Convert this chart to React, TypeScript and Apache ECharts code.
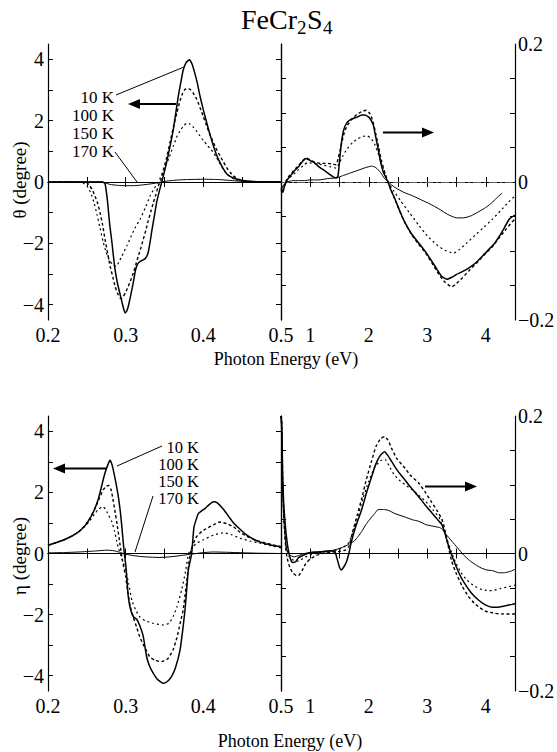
import React, { useEffect, useRef } from "react";
import * as echarts from "echarts";

const FONT = "'Liberation Serif', 'DejaVu Serif', 'Times New Roman', serif";

const temperatureLabels = ["10 K", "100 K", "150 K", "170 K"];
const lowXLabels = [0.2, 0.3, 0.4, 0.5];
const lowXTicks = [0.25, 0.3, 0.35, 0.4, 0.45];
const highXLabels = [1, 2, 3, 4];
const highXTicks = [1, 1.5, 2, 2.5, 3, 3.5, 4];
const leftYLabels = [-4, -2, 0, 2, 4];
const leftYTicks = [-4, -3, -2, -1, 0, 1, 2, 3, 4];
const rightYLabels = [-0.2, 0, 0.2];
const rightYTicks = [-0.15, -0.1, -0.05, 0, 0.05, 0.1, 0.15];

// Kerr rotation θ (degree), 0.2–0.5 eV, left scale
const thetaLow10K = [[0.2,0],[0.24,0],[0.27,0],[0.2734,-0.05],[0.2765,-0.6],[0.2795,-1.4],[0.282,-1.9],[0.2855,-2.7],[0.289,-3.25],[0.2927,-3.65],[0.2965,-4.05],[0.2992,-4.27],[0.3015,-4.2],[0.3034,-4.05],[0.3065,-3.7],[0.31,-3.25],[0.3125,-2.9],[0.3145,-2.72],[0.318,-2.6],[0.322,-2.55],[0.326,-2.47],[0.329,-2.3],[0.3315,-1.95],[0.3335,-1.62],[0.337,-1.1],[0.34,-0.65],[0.3435,-0.28],[0.3465,0],[0.3495,0.3],[0.3528,0.65],[0.357,1.15],[0.3614,1.72],[0.3645,2.25],[0.3678,2.8],[0.371,3.25],[0.3742,3.66],[0.378,3.9],[0.382,3.99],[0.3855,3.85],[0.389,3.55],[0.3925,3.2],[0.3957,2.8],[0.4,2.35],[0.4043,1.94],[0.4085,1.55],[0.4129,1.18],[0.417,0.88],[0.4215,0.63],[0.426,0.42],[0.43,0.27],[0.4345,0.18],[0.4386,0.13],[0.445,0.08],[0.4558,0.03],[0.47,0.01],[0.5,0]];
const thetaLow100K = [[0.2,0],[0.245,0],[0.25,-0.02],[0.254,-0.13],[0.2575,-0.28],[0.2605,-0.46],[0.264,-0.7],[0.267,-1.0],[0.2705,-1.42],[0.2734,-1.87],[0.277,-2.35],[0.28,-2.75],[0.2835,-3.1],[0.2863,-3.4],[0.2895,-3.63],[0.2927,-3.78],[0.295,-3.8],[0.297,-3.73],[0.3,-3.6],[0.3034,-3.4],[0.3065,-3.2],[0.31,-2.96],[0.313,-2.7],[0.3163,-2.42],[0.3195,-2.15],[0.3227,-1.87],[0.326,-1.57],[0.329,-1.27],[0.3323,-0.97],[0.3356,-0.68],[0.339,-0.4],[0.342,-0.13],[0.345,0.05],[0.3485,0.38],[0.3528,0.8],[0.357,1.28],[0.3614,1.78],[0.366,2.27],[0.37,2.65],[0.3735,2.9],[0.3764,3.02],[0.3807,3.05],[0.384,3.0],[0.387,2.9],[0.3915,2.7],[0.3957,2.43],[0.4,2.13],[0.4043,1.83],[0.4085,1.55],[0.413,1.29],[0.417,1.06],[0.4215,0.85],[0.426,0.65],[0.43,0.47],[0.4345,0.32],[0.4386,0.2],[0.445,0.09],[0.4515,0.03],[0.47,0],[0.5,0]];
const thetaLow150K = [[0.2,0],[0.24,0],[0.245,-0.03],[0.25,-0.12],[0.255,-0.35],[0.259,-0.65],[0.263,-1.05],[0.267,-1.5],[0.271,-1.95],[0.275,-2.3],[0.279,-2.55],[0.2835,-2.7],[0.288,-2.75],[0.2915,-2.6],[0.295,-2.42],[0.3013,-2.09],[0.3065,-1.8],[0.312,-1.5],[0.3185,-1.22],[0.325,-0.86],[0.3313,-0.46],[0.3365,-0.22],[0.342,0],[0.346,0.22],[0.35,0.45],[0.356,0.8],[0.3614,1.18],[0.3655,1.45],[0.37,1.67],[0.3745,1.83],[0.3785,1.92],[0.382,1.9],[0.386,1.82],[0.3905,1.68],[0.3957,1.5],[0.4,1.35],[0.405,1.2],[0.409,1.08],[0.413,0.96],[0.4165,0.82],[0.42,0.66],[0.4258,0.41],[0.43,0.27],[0.435,0.16],[0.44,0.09],[0.445,0.05],[0.455,0.02],[0.47,0],[0.5,0]];
const thetaLow170K = [[0.2,0],[0.27,0],[0.275,-0.04],[0.28,-0.08],[0.29,-0.11],[0.3,-0.12],[0.31,-0.12],[0.32,-0.1],[0.33,-0.07],[0.34,-0.03],[0.35,0.02],[0.36,0.05],[0.37,0.07],[0.38,0.08],[0.4,0.09],[0.42,0.08],[0.43,0.06],[0.44,0.04],[0.45,0.02],[0.47,0.005],[0.5,0]];

// θ, 0.5–4.5 eV, right scale
const thetaHigh10K = [[0.5,-0.012],[0.53,-0.015],[0.56,-0.006],[0.6,0.002],[0.65,0.008],[0.7,0.013],[0.75,0.018],[0.8,0.022],[0.86,0.029],[0.93,0.034],[1.0,0.031],[1.07,0.028],[1.15,0.022],[1.25,0.016],[1.33,0.011],[1.4,0.007],[1.45,0.006],[1.475,0.009],[1.5,0.03],[1.53,0.055],[1.57,0.075],[1.62,0.085],[1.7,0.091],[1.8,0.094],[1.88,0.097],[1.93,0.097],[2.0,0.094],[2.05,0.088],[2.08,0.082],[2.12,0.065],[2.16,0.048],[2.2,0.03],[2.25,0.014],[2.33,0],[2.38,-0.012],[2.45,-0.025],[2.53,-0.042],[2.62,-0.059],[2.73,-0.075],[2.85,-0.088],[2.96,-0.1],[3.08,-0.115],[3.17,-0.127],[3.25,-0.137],[3.34,-0.141],[3.42,-0.138],[3.5,-0.134],[3.6,-0.13],[3.72,-0.124],[3.83,-0.117],[3.95,-0.107],[4.05,-0.098],[4.15,-0.089],[4.23,-0.079],[4.32,-0.066],[4.4,-0.054],[4.46,-0.05],[4.5,-0.048]];
const thetaHigh100K = [[0.5,-0.01],[0.53,-0.012],[0.56,-0.004],[0.6,0.004],[0.65,0.01],[0.7,0.015],[0.8,0.024],[0.86,0.03],[0.93,0.035],[1.0,0.032],[1.1,0.028],[1.2,0.027],[1.3,0.027],[1.38,0.026],[1.44,0.025],[1.48,0.035],[1.52,0.05],[1.57,0.068],[1.62,0.08],[1.7,0.09],[1.8,0.098],[1.9,0.103],[1.96,0.104],[2.02,0.099],[2.07,0.088],[2.12,0.07],[2.17,0.05],[2.22,0.03],[2.28,0.012],[2.33,0],[2.4,-0.015],[2.48,-0.032],[2.6,-0.056],[2.73,-0.076],[2.85,-0.09],[2.98,-0.104],[3.1,-0.12],[3.2,-0.134],[3.3,-0.145],[3.42,-0.152],[3.5,-0.147],[3.6,-0.139],[3.72,-0.128],[3.85,-0.117],[3.97,-0.106],[4.1,-0.095],[4.22,-0.082],[4.35,-0.068],[4.45,-0.058],[4.5,-0.054]];
const thetaHigh150K = [[0.5,-0.01],[0.55,-0.006],[0.6,0.003],[0.7,0.01],[0.8,0.018],[0.9,0.025],[0.95,0.028],[1.05,0.027],[1.2,0.025],[1.35,0.022],[1.44,0.02],[1.5,0.028],[1.56,0.038],[1.63,0.048],[1.72,0.057],[1.82,0.063],[1.9,0.066],[1.97,0.067],[2.04,0.063],[2.1,0.055],[2.16,0.042],[2.22,0.026],[2.28,0.01],[2.33,0],[2.42,-0.012],[2.55,-0.028],[2.7,-0.045],[2.85,-0.062],[3.0,-0.078],[3.15,-0.09],[3.3,-0.099],[3.45,-0.103],[3.55,-0.098],[3.68,-0.088],[3.82,-0.077],[3.95,-0.067],[4.1,-0.055],[4.25,-0.042],[4.38,-0.03],[4.5,-0.02]];
const thetaHigh170K = [[0.5,-0.01],[0.55,-0.004],[0.6,0.0],[0.7,0.002],[0.8,0.002],[0.9,0.002],[1.0,0.003],[1.15,0.003],[1.3,0.005],[1.45,0.006],[1.55,0.009],[1.65,0.012],[1.75,0.015],[1.85,0.018],[1.95,0.021],[2.05,0.023],[2.12,0.021],[2.2,0.014],[2.27,0.005],[2.33,0],[2.45,-0.008],[2.6,-0.015],[2.75,-0.02],[2.9,-0.026],[3.05,-0.032],[3.2,-0.039],[3.35,-0.047],[3.5,-0.052],[3.62,-0.052],[3.75,-0.049],[3.88,-0.043],[4.0,-0.037],[4.12,-0.029],[4.2,-0.022],[4.28,-0.016]];

// Kerr ellipticity η (degree), 0.2–0.5 eV, left scale
const etaLow10K = [[0.2,0.27],[0.21,0.35],[0.22,0.44],[0.23,0.56],[0.24,0.72],[0.248,0.92],[0.254,1.15],[0.26,1.45],[0.265,1.8],[0.269,2.2],[0.273,2.6],[0.277,2.9],[0.2798,3.05],[0.2825,2.9],[0.286,2.5],[0.29,1.95],[0.293,1.4],[0.295,0.9],[0.297,0.33],[0.2985,-0.05],[0.3004,-0.44],[0.3034,-1.42],[0.3065,-1.85],[0.31,-2.07],[0.3142,-2.15],[0.318,-2.35],[0.3227,-2.72],[0.327,-3.38],[0.331,-3.7],[0.3356,-3.92],[0.341,-4.12],[0.3485,-4.25],[0.354,-4.18],[0.359,-4.03],[0.364,-3.75],[0.37,-3.16],[0.3735,-2.5],[0.3764,-1.85],[0.3785,-1.2],[0.3807,-0.54],[0.385,0],[0.388,0.87],[0.3936,1.31],[0.398,1.4],[0.402,1.47],[0.4075,1.6],[0.4129,1.69],[0.418,1.66],[0.4258,1.45],[0.433,1.2],[0.439,1.0],[0.447,0.8],[0.456,0.6],[0.466,0.45],[0.477,0.34],[0.488,0.27],[0.5,0.22]];
const etaLow100K = [[0.2,0.27],[0.21,0.35],[0.22,0.44],[0.23,0.56],[0.24,0.72],[0.248,0.92],[0.254,1.15],[0.26,1.45],[0.266,1.8],[0.271,2.08],[0.275,2.2],[0.278,2.23],[0.281,2.1],[0.2835,1.8],[0.286,1.42],[0.289,0.95],[0.2925,0.33],[0.296,-0.25],[0.3,-0.76],[0.303,-1.3],[0.306,-1.74],[0.31,-2.1],[0.314,-2.4],[0.318,-2.72],[0.324,-3.05],[0.331,-3.38],[0.338,-3.5],[0.346,-3.54],[0.354,-3.45],[0.361,-3.16],[0.366,-2.75],[0.37,-2.3],[0.374,-1.85],[0.378,-1.05],[0.383,0],[0.387,0.32],[0.391,0.54],[0.398,0.72],[0.405,0.83],[0.413,0.94],[0.421,1.03],[0.43,0.98],[0.439,0.87],[0.447,0.7],[0.456,0.56],[0.468,0.43],[0.482,0.33],[0.5,0.22]];
const etaLow150K = [[0.2,0.27],[0.21,0.35],[0.22,0.44],[0.23,0.56],[0.24,0.72],[0.248,0.9],[0.254,1.08],[0.26,1.3],[0.265,1.45],[0.2705,1.53],[0.274,1.45],[0.278,1.25],[0.282,1.05],[0.2855,0.75],[0.2885,0.4],[0.291,0.15],[0.295,-0.15],[0.3,-0.54],[0.304,-1.0],[0.308,-1.53],[0.313,-1.85],[0.318,-2.07],[0.325,-2.2],[0.336,-2.29],[0.349,-2.34],[0.356,-2.28],[0.361,-2.07],[0.366,-1.75],[0.372,-1.2],[0.377,-0.6],[0.381,0],[0.386,0.2],[0.391,0.33],[0.4,0.45],[0.413,0.6],[0.426,0.68],[0.437,0.61],[0.447,0.5],[0.46,0.41],[0.473,0.34],[0.486,0.26],[0.5,0.18]];
const etaLow170K = [[0.2,0.02],[0.22,0.03],[0.24,0.05],[0.26,0.08],[0.276,0.11],[0.285,0.09],[0.292,0.04],[0.3,-0.02],[0.31,-0.07],[0.32,-0.1],[0.332,-0.12],[0.344,-0.13],[0.357,-0.11],[0.37,-0.07],[0.385,-0.02],[0.4,0.03],[0.413,0.05],[0.43,0.04],[0.45,0.025],[0.47,0.01],[0.5,0]];

// η, 0.5–4.5 eV, right scale
const etaHigh10K = [[0.5,0.2],[0.512,0.19],[0.52,0.16],[0.529,0.112],[0.545,0.075],[0.56,0.055],[0.586,0.03],[0.615,0.01],[0.643,-0.002],[0.67,-0.01],[0.7,-0.013],[0.75,-0.012],[0.8,-0.006],[0.87,-0.003],[0.95,0.0],[1.05,0.002],[1.15,0.002],[1.25,0.003],[1.35,0.004],[1.42,0.003],[1.46,-0.008],[1.5,-0.02],[1.53,-0.024],[1.57,-0.02],[1.62,-0.012],[1.66,0.0],[1.7,0.016],[1.78,0.04],[1.88,0.064],[1.96,0.088],[2.05,0.112],[2.12,0.13],[2.2,0.143],[2.27,0.148],[2.33,0.142],[2.39,0.134],[2.48,0.122],[2.57,0.112],[2.62,0.107],[2.72,0.096],[2.85,0.083],[2.96,0.071],[3.08,0.059],[3.17,0.05],[3.25,0.042],[3.3,0.03],[3.35,0.015],[3.42,-0.003],[3.5,-0.02],[3.58,-0.035],[3.65,-0.045],[3.75,-0.057],[3.88,-0.068],[4.0,-0.075],[4.11,-0.078],[4.22,-0.078],[4.34,-0.076],[4.45,-0.074],[4.5,-0.073]];
const etaHigh100K = [[0.5,0.2],[0.512,0.19],[0.52,0.15],[0.53,0.1],[0.545,0.06],[0.56,0.035],[0.58,0.01],[0.6,-0.005],[0.65,-0.02],[0.7,-0.028],[0.76,-0.032],[0.8,-0.032],[0.86,-0.025],[0.92,-0.015],[1.0,-0.008],[1.1,-0.003],[1.2,0.0],[1.35,0.002],[1.5,0.003],[1.6,0.005],[1.66,0.01],[1.72,0.03],[1.8,0.055],[1.88,0.08],[1.96,0.108],[2.05,0.135],[2.12,0.155],[2.2,0.167],[2.27,0.17],[2.33,0.165],[2.39,0.153],[2.48,0.138],[2.62,0.124],[2.72,0.113],[2.85,0.103],[2.96,0.09],[3.08,0.074],[3.17,0.062],[3.25,0.05],[3.3,0.035],[3.36,0.01],[3.42,-0.012],[3.5,-0.03],[3.6,-0.048],[3.7,-0.062],[3.8,-0.072],[3.9,-0.079],[4.0,-0.084],[4.15,-0.087],[4.3,-0.088],[4.5,-0.088]];
const etaHigh150K = [[0.5,0.2],[0.512,0.18],[0.52,0.14],[0.53,0.095],[0.545,0.06],[0.56,0.04],[0.58,0.018],[0.6,0.005],[0.65,-0.006],[0.72,-0.01],[0.8,-0.011],[0.9,-0.006],[1.0,-0.002],[1.15,0.001],[1.3,0.003],[1.45,0.005],[1.55,0.008],[1.65,0.015],[1.72,0.028],[1.8,0.05],[1.9,0.08],[2.0,0.105],[2.1,0.125],[2.2,0.135],[2.28,0.137],[2.35,0.127],[2.43,0.115],[2.52,0.107],[2.62,0.1],[2.74,0.093],[2.85,0.085],[2.98,0.075],[3.1,0.063],[3.2,0.053],[3.27,0.038],[3.34,0.02],[3.4,0.005],[3.48,-0.012],[3.58,-0.028],[3.68,-0.039],[3.8,-0.047],[3.95,-0.053],[4.1,-0.054],[4.25,-0.051],[4.4,-0.048],[4.5,-0.046]];
const etaHigh170K = [[0.5,0.2],[0.512,0.17],[0.52,0.13],[0.53,0.09],[0.545,0.055],[0.56,0.035],[0.58,0.015],[0.6,0.005],[0.65,-0.002],[0.72,-0.005],[0.8,-0.003],[0.9,0.0],[1.05,0.002],[1.2,0.003],[1.35,0.004],[1.45,0.006],[1.55,0.009],[1.65,0.013],[1.75,0.018],[1.82,0.025],[1.88,0.032],[1.95,0.042],[2.02,0.05],[2.1,0.058],[2.16,0.064],[2.25,0.064],[2.33,0.063],[2.45,0.058],[2.62,0.053],[2.75,0.049],[2.85,0.047],[2.98,0.042],[3.08,0.04],[3.2,0.038],[3.25,0.036],[3.32,0.028],[3.42,0.018],[3.52,0.008],[3.62,-0.002],[3.72,-0.01],[3.82,-0.016],[3.92,-0.021],[4.02,-0.024],[4.12,-0.025],[4.22,-0.028],[4.32,-0.028],[4.42,-0.026],[4.5,-0.023]];

const LINE_STYLES: any[] = [
  { type: "solid", width: 1.5 },
  { type: [3, 2.5], width: 1.4 },
  { type: [2, 3], width: 1.2 },
  { type: "solid", width: 1.0 },
];

const minus = (v: number, digits?: number) => {
  const s = digits === undefined ? String(Math.abs(v)) : Math.abs(v).toFixed(digits);
  if (Math.abs(v) < 1e-9) return "0";
  return v < 0 ? "\u2212" + s : s;
};

function buildOption() {
  const axisLine = { show: true, lineStyle: { color: "#000", width: 1.2 } };
  const tick = (vals: number[]) => ({ show: true, inside: true, length: 5, customValues: vals, lineStyle: { color: "#000", width: 1 } });
  const labelStyle = { color: "#000", fontFamily: FONT, fontSize: 20 };

  const grids = [
    { left: 48, top: 44, width: 233, height: 276 },
    { left: 281, top: 44, width: 234, height: 276 },
    { left: 48, top: 416, width: 233, height: 275 },
    { left: 281, top: 416, width: 234, height: 275 },
  ].map((g) => ({ ...g, containLabel: false, outerBoundsMode: "none" }));

  const xAxes: any[] = [];
  const yAxes: any[] = [];
  [0, 1, 2, 3].forEach((gi) => {
    const low = gi % 2 === 0;
    const base = {
      type: "value",
      gridIndex: gi,
      min: low ? 0.2 : 0.5,
      max: low ? 0.5 : 4.5,
      splitLine: { show: false },
      axisLine,
    };
    xAxes.push({
      ...base,
      position: "bottom",
      axisTick: tick(low ? lowXTicks : highXTicks),
      axisLabel: {
        ...labelStyle,
        margin: 5,
        customValues: low ? lowXLabels : highXLabels,
        formatter: (v: number) => (low ? v.toFixed(1) : String(Math.round(v))),
      },
    });
    xAxes.push({
      ...base,
      position: "top",
      axisTick: tick(low ? lowXTicks : highXTicks),
      axisLabel: { show: false },
    });
    const yb = {
      type: "value",
      gridIndex: gi,
      min: low ? -4.5 : -0.2,
      max: low ? 4.5 : 0.2,
      splitLine: { show: false },
      axisLine,
    };
    yAxes.push({
      ...yb,
      position: low ? "left" : "right",
      axisTick: tick(low ? leftYTicks : rightYTicks),
      axisLabel: {
        ...labelStyle,
        margin: low ? 4 : 3,
        customValues: low ? leftYLabels : rightYLabels,
        formatter: (v: number) => (low ? minus(v) : minus(v, 1)),
      },
    });
    yAxes.push({
      ...yb,
      position: low ? "right" : "left",
      axisTick: tick(low ? leftYTicks : rightYTicks),
      axisLabel: { show: false },
    });
  });

  const panels = [
    { data: [thetaLow10K, thetaLow100K, thetaLow150K, thetaLow170K], x: 0, y: 0, zero: { color: "#000", type: "solid" } },
    { data: [thetaHigh10K, thetaHigh100K, thetaHigh150K, thetaHigh170K], x: 2, y: 2, zero: { color: "#777", type: [8, 3, 2, 3] } },
    { data: [etaLow10K, etaLow100K, etaLow150K, etaLow170K], x: 4, y: 4, zero: { color: "#000", type: "solid" } },
    { data: [etaHigh10K, etaHigh100K, etaHigh150K, etaHigh170K], x: 6, y: 6, zero: { color: "#000", type: "solid" } },
  ];

  const series: any[] = [];
  panels.forEach((p, pi) => {
    p.data.forEach((d, si) => {
      const s: any = {
        type: "line",
        name: `${pi < 2 ? "θ" : "η"} ${temperatureLabels[si]}${pi % 2 ? " (high)" : " (low)"}`,
        data: d,
        xAxisIndex: p.x,
        yAxisIndex: p.y,
        symbol: "none",
        showSymbol: false,
        smooth: 0.15,
        lineStyle: { color: "#000", width: LINE_STYLES[si].width, type: LINE_STYLES[si].type },
        silent: true,
        z: 3,
      };
      if (si === 3) {
        s.markLine = {
          silent: true,
          symbol: "none",
          label: { show: false },
          lineStyle: { color: p.zero.color, width: 0.8, type: p.zero.type },
          data: [{ yAxis: 0 }],
          z: 1,
        };
      }
      series.push(s);
    });
  });

  const txt = (text: string, x: number, y: number, size: number, align = "center", extra: any = {}) => ({
    type: "text",
    x,
    y,
    ...extra,
    style: { text, fontFamily: FONT, fontSize: size, fill: "#000", align, verticalAlign: "middle" },
  });
  const ln = (x1: number, y1: number, x2: number, y2: number, w = 1) => ({
    type: "line",
    shape: { x1, y1, x2, y2 },
    style: { stroke: "#000", lineWidth: w },
  });
  const arrow = (xTail: number, xTip: number, y: number) => {
    const dir = xTip > xTail ? 1 : -1;
    const back = xTip - dir * 12;
    return [
      ln(xTail, y, back, y, 2),
      { type: "polygon", shape: { points: [[xTip, y], [back, y - 5], [back, y + 5]] }, style: { fill: "#000" } },
    ];
  };

  const graphic: any[] = [
    // title FeCr2S4
    txt("FeCr", 241, 19, 28, "left"),
    txt("2", 297, 27, 19, "left"),
    txt("S", 307, 19, 28, "left"),
    txt("4", 323, 27, 19, "left"),
    // axis titles
    txt("θ (degree)", 19, 180, 19, "center", { rotation: Math.PI / 2 }),
    txt("η (degree)", 19, 556, 19, "center", { rotation: Math.PI / 2 }),
    txt("Photon Energy (eV)", 286, 359, 18),
    txt("Photon Energy (eV)", 290, 741, 18),
    // top legend
    ...temperatureLabels.map((t, i) => txt(t, 114, 97 + i * 18.3, 17, "right")),
    ln(116, 95, 184, 67),
    ln(115, 152, 137, 182),
    ...arrow(176, 128, 104),
    ...arrow(383, 434, 132.5),
    // bottom legend
    ...temperatureLabels.map((t, i) => txt(t, 199, 447 + i * 17.3, 16.5, "right")),
    ln(162, 446, 117, 466),
    ln(153, 496, 135, 552),
    ...arrow(106, 53, 468.5),
    ...arrow(425, 477, 486.5),
  ];

  return {
    animation: false,
    backgroundColor: "#fff",
    grid: grids,
    xAxis: xAxes,
    yAxis: yAxes,
    series,
    graphic,
  };
}

export default function App() {
  const ref = useRef<HTMLDivElement>(null);
  useEffect(() => {
    if (!ref.current) return;
    const chart = echarts.init(ref.current, undefined, { renderer: "svg" });
    chart.setOption(buildOption() as any);
    return () => chart.dispose();
  }, []);
  return <div ref={ref} style={{ position: "absolute", left: 0, top: 0, width: 557, height: 752, background: "#fff" }} />;
}
